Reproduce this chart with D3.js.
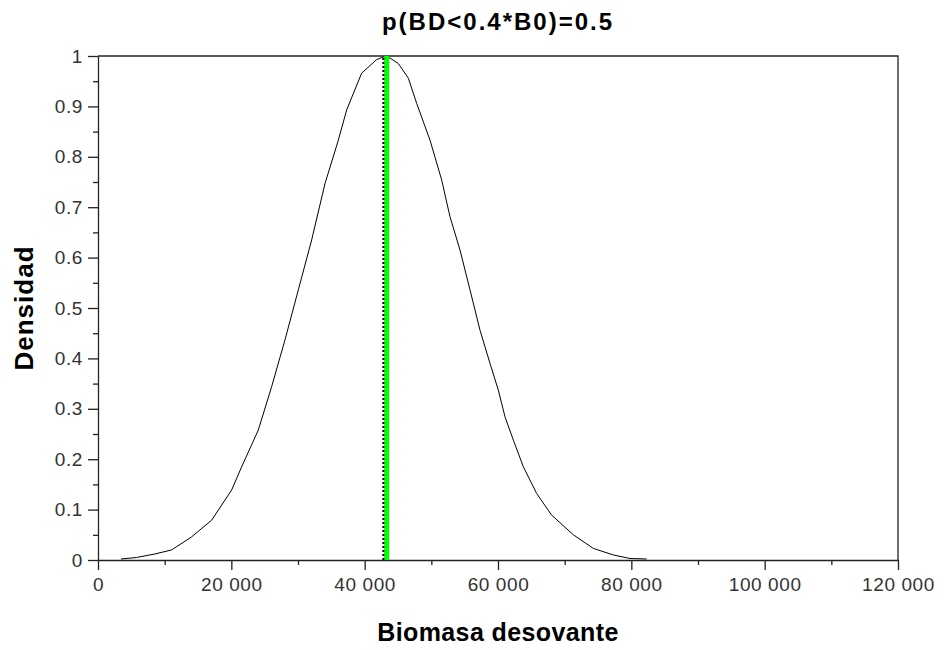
<!DOCTYPE html>
<html>
<head>
<meta charset="utf-8">
<script src="https://cdn.jsdelivr.net/npm/d3@7"></script>
<style>
  body { margin: 0; background: #fff; }
  text { font-family: "Liberation Sans", Arial, sans-serif; }
</style>
</head>
<body>
<script>
'use strict';

// biomass values (x) and density (y)
const biomasa = [3450, 5800, 8550, 11050, 14050, 17050, 20050, 21550, 24050, 26050,
  28050, 30050, 32050, 34050, 36050, 37300, 39550, 41800, 42800, 43800,
  45050, 46550, 47800, 49800, 51550, 52800, 54300, 55800, 57300, 58800,
  60050, 61050, 62300, 63800, 65800, 68050, 71300, 74300, 77300, 79800, 82300];
const densidad = [0.002, 0.005, 0.012, 0.02, 0.046, 0.079, 0.139, 0.185, 0.258, 0.344,
  0.437, 0.536, 0.635, 0.747, 0.833, 0.893, 0.966, 0.993, 0.998, 0.996,
  0.985, 0.956, 0.906, 0.833, 0.754, 0.681, 0.615, 0.536, 0.456, 0.39,
  0.337, 0.284, 0.238, 0.185, 0.132, 0.089, 0.05, 0.023, 0.01, 0.003, 0.002];

// vertical markers
const mediana = 42800;   // dotted black
const limite = 43300;    // green

const xTicks = [0, 20000, 40000, 60000, 80000, 100000, 120000];
const yTicks = [0, 0.1, 0.2, 0.3, 0.4, 0.5, 0.6, 0.7, 0.8, 0.9, 1];

(function() {

  let svg = "";

  window.onload = function() {
    svg = d3.select('body')
      .append('svg')
      .attr('width', 944)
      .attr('height', 650);

    let scales = drawAxes();
    plotCurve(scales);
    makeLabels();
  }

  // axes, ticks and box
  function drawAxes() {
    let xScale = d3.scaleLinear()
      .domain([0, 120000])
      .range([98, 898]);

    let yScale = d3.scaleLinear()
      .domain([0, 1])
      .range([560, 56]);

    let fmt = d => d3.format(",")(d).replace(/,/g, " ");

    // minor ticks at half steps
    let xMinor = d3.range(10000, 120000, 20000);
    let yMinor = d3.range(0.05, 1, 0.1);

    svg.append('g')
      .attr('transform', 'translate(0, 560)')
      .call(d3.axisBottom(xScale).tickValues(xMinor).tickSize(5).tickFormat(''))
      .call(g => g.select('.domain').remove());

    svg.append('g')
      .attr('transform', 'translate(98, 0)')
      .call(d3.axisLeft(yScale).tickValues(yMinor).tickSize(5).tickFormat(''))
      .call(g => g.select('.domain').remove());

    let xAxis = svg.append('g')
      .attr('transform', 'translate(0, 560)')
      .call(d3.axisBottom(xScale).tickValues(xTicks).tickSize(10).tickSizeOuter(0).tickPadding(8).tickFormat(fmt));

    let yAxis = svg.append('g')
      .attr('transform', 'translate(98, 0)')
      .call(d3.axisLeft(yScale).tickValues(yTicks).tickSize(10).tickSizeOuter(0).tickPadding(5).tickFormat(d3.format("")));

    [xAxis, yAxis].forEach(a => {
      a.selectAll('text')
        .attr('fill', '#333')
        .style('font-size', '19px')
        .style('letter-spacing', '0.6px')
        .style('font-family', '"Liberation Sans", Arial, sans-serif');
    });
    svg.selectAll('.tick line, .domain').attr('stroke', '#222').attr('stroke-width', 1.3);

    // top and right border
    svg.append('path')
      .attr('d', 'M' + xScale(0) + ',' + yScale(1) + 'H' + xScale(120000) + 'V' + yScale(0))
      .attr('fill', 'none')
      .attr('stroke', '#222')
      .attr('stroke-width', 1.3);

    return { x: xScale, y: yScale };
  }

  // density curve and the two vertical lines
  function plotCurve(s) {
    let pts = biomasa.map((b, i) => [b, densidad[i]]);

    let line = d3.line()
      .x(d => s.x(d[0]))
      .y(d => s.y(d[1]));

    svg.append('path')
      .datum(pts)
      .attr('fill', 'none')
      .attr('stroke', '#000')
      .attr('stroke-width', 1)
      .attr('d', line);

    svg.append('line')
      .attr('x1', s.x(limite)).attr('x2', s.x(limite))
      .attr('y1', s.y(0)).attr('y2', s.y(1))
      .attr('stroke', '#00ff00')
      .attr('stroke-width', 5);

    svg.append('line')
      .attr('x1', s.x(mediana)).attr('x2', s.x(mediana))
      .attr('y1', s.y(0)).attr('y2', s.y(1))
      .attr('stroke', '#000')
      .attr('stroke-width', 2)
      .attr('stroke-dasharray', '2,2');
  }

  // title and axis titles
  function makeLabels() {
    svg.append('text')
      .attr('x', 498)
      .attr('y', 30)
      .attr('text-anchor', 'middle')
      .style('font-size', '24px')
      .style('font-weight', 'bold')
      .style('letter-spacing', '2px')
      .text('p(BD<0.4*B0)=0.5');

    svg.append('text')
      .attr('x', 498)
      .attr('y', 641)
      .attr('text-anchor', 'middle')
      .style('font-size', '25px')
      .style('font-weight', 'bold')
      .style('letter-spacing', '0.4px')
      .text('Biomasa desovante');

    svg.append('text')
      .attr('transform', 'translate(33, 308)rotate(-90)')
      .attr('text-anchor', 'middle')
      .style('font-size', '26px')
      .style('font-weight', 'bold')
      .style('letter-spacing', '1px')
      .text('Densidad');
  }
})();
</script>
</body>
</html>
